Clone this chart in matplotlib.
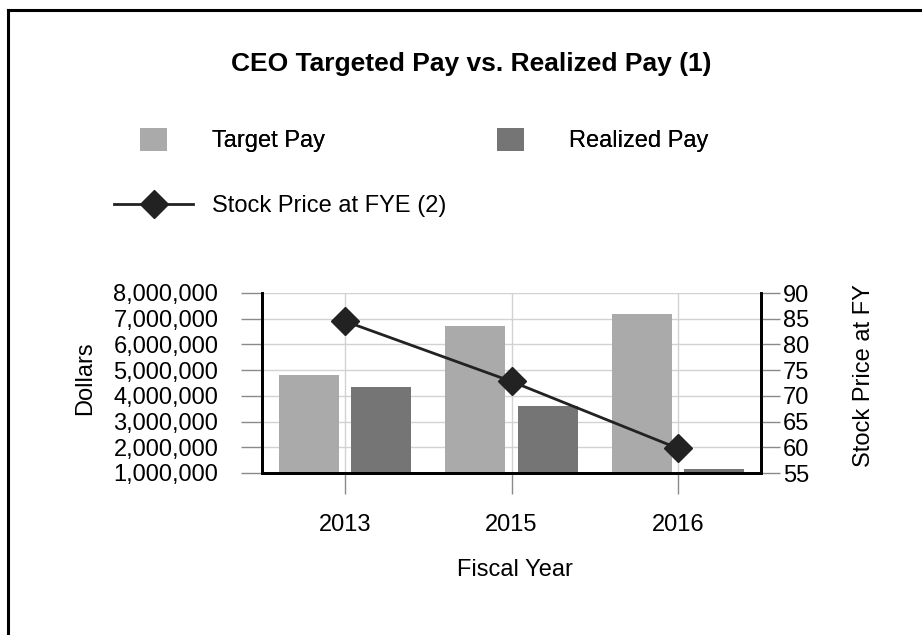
import numpy as np
import matplotlib
matplotlib.use('Agg')
import matplotlib.pyplot as plt
from matplotlib.lines import Line2D
from matplotlib.patches import Patch
from matplotlib.ticker import FuncFormatter

plt.rcParams['font.family'] = ['Liberation Sans', 'DejaVu Sans']

# data
years = ['2013', '2015', '2016']
target_pay = [4800000, 6700000, 7200000]
realized_pay = [4350000, 3620000, 1170000]
stock_price = [84.5, 72.8, 59.8]

c_target = '#aaaaaa'
c_real = '#757575'
c_line = '#222222'
c_grid = '#d2d2d2'
c_tick = '#8a8a8a'
fs = 17

fig = plt.figure(figsize=(9.22, 6.35), dpi=100)
ax = fig.add_axes([262/922, 1-473/635, 499/922, 180/635])
ax2 = ax.twinx()

x = np.arange(len(years))
w = 0.36
ax.bar(x - 0.218, target_pay, w, color=c_target, zorder=2)
ax.bar(x + 0.218, realized_pay, w, color=c_real, zorder=2)
ax.set_xlim(-0.5, 2.5)
ax.set_ylim(1000000, 8000000)
ax.set_yticks(np.arange(1000000, 8000001, 1000000))
ax.yaxis.set_major_formatter(FuncFormatter(lambda v, p: '{:,.0f}'.format(v)))
ax.set_xticks(x)
ax.set_xticklabels(years)
ax.grid(True, color=c_grid, lw=1, zorder=0)
ax.set_axisbelow(True)

ax2.plot(x, stock_price, color=c_line, lw=2, marker='D', ms=14,
         mfc=c_line, mec=c_line, zorder=5)
ax2.set_ylim(55, 90)
ax2.set_yticks(np.arange(55, 91, 5))

for a in (ax, ax2):
    for s in a.spines.values():
        s.set_linewidth(2)
        s.set_color('black')
    a.spines['top'].set_visible(False)

ax.tick_params(axis='y', length=15, width=1, color=c_tick, labelsize=fs, pad=16.5)
ax.tick_params(axis='x', length=15, width=1, color=c_tick, labelsize=fs, pad=14.7)
ax2.tick_params(axis='y', length=14, width=1, color=c_tick, labelsize=fs, pad=2)

ax.set_ylabel('Dollars', fontsize=fs)
ax.yaxis.set_label_coords(-0.333, 0.525)
ax.set_xlabel('Fiscal Year', fontsize=fs)
ax.xaxis.set_label_coords(0.507, -0.478)
ax2.set_ylabel('Stock Price at FY', fontsize=fs)
ax2.yaxis.set_label_coords(1.184, 0.539)

fig.text(471/922, 1-64/635, 'CEO Targeted Pay vs. Realized Pay (1)',
         ha='center', va='center', fontsize=19, fontweight='bold')

# legend, two rows
h_bars = [Patch(facecolor=c_target), Patch(facecolor=c_real)]
leg1 = fig.legend(h_bars, ['Target Pay', 'Realized Pay'], ncol=2, frameon=False,
                  fontsize=fs, handlelength=1.14, handleheight=1.14,
                  handletextpad=1.9, columnspacing=7.3, borderpad=0, borderaxespad=0,
                  loc='center left', bbox_to_anchor=(140/922, 1-140/635))
h_line = [Line2D([], [], color=c_line, lw=2, marker='D', ms=14)]
leg2 = fig.legend(h_line, ['Stock Price at FYE (2)'], frameon=False, fontsize=fs,
                  handlelength=3.35, handletextpad=0.8, numpoints=1,
                  borderpad=0, borderaxespad=0,
                  loc='center left', bbox_to_anchor=(114/922, 1-206/635))
fig.add_artist(leg1)

# page border (left and top only)
fig.add_artist(Line2D([8/922, 8/922], [0, 1-10/635], transform=fig.transFigure,
                      color='black', lw=2.2))
fig.add_artist(Line2D([8/922, 1], [1-10/635, 1-10/635], transform=fig.transFigure,
                      color='black', lw=2.2))

fig.savefig('out.png', dpi=100)
